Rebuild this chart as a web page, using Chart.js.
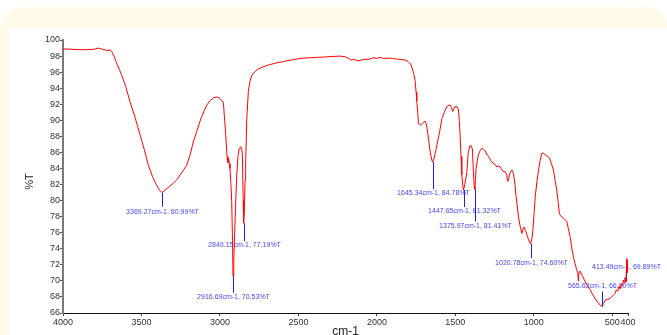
<!DOCTYPE html>
<html>
<head>
<meta charset="utf-8">
<script src="https://cdn.jsdelivr.net/npm/chart.js@4.4.1/dist/chart.umd.min.js"></script>
<style>
html,body{margin:0;padding:0;background:#ffffff;width:667px;height:335px;overflow:hidden}
#cream{position:absolute;left:0;top:7px;width:667px;height:340px;background:#fffae9;border-radius:22px 18px 0 0}
#panel{position:absolute;left:10px;top:28px;width:657px;height:320px;background:#ffffff}
#wrap{position:absolute;left:0;top:0;width:667px;height:335px}
</style>
</head>
<body>
<div id="cream"></div>
<div id="panel"></div>
<div id="wrap"><canvas id="c" width="667" height="335"></canvas></div>
<script>
// ---- data ----
const wavenumbers = [
4000,3950,3900,3850,3800,3775,3750,3720,3700,3690,3675,3660,3640,3626,3600,3573,3540,3509,3480,3456,
3430,3403,3385,3369.27,3350,3320,3300,3275,3250,3212,3190,3170,3148,3120,3100,3084,3060,3040,3020,3005,
2990,2978,2970,2963,2955,2950,2945,2940,2936,2930,2925,2920,2916.69,2912,2906,2900,2893,2885,2878,2866,
2860,2857,2852,2849.15,2845,2840,2836,2829,2819,2808,2797,2780,2755,2720,2690,2649,2600,2550,2490,2420,
2319,2280,2235,2200,2180,2160,2150,2120,2100,2086,2050,2020,2000,1980,1960,1930,1900,1870,1852,1820,
1800,1785,1775,1765,1757,1750,1746,1740,1735,1728,1720,1712,1703,1693,1686,1680,1670,1660,1650,1645.34,
1635,1625,1618,1600,1586,1570,1555,1540,1533,1525,1516,1508,1502,1490,1481,1475,1470,1464,1459,1452,
1447.65,1440,1433,1427,1420,1417,1408,1402,1396,1391,1385,1380,1375.97,1372,1368,1360,1353,1343,1332,1320,
1310,1300,1289,1275,1257,1246,1236,1225,1215,1205,1194,1183,1172,1168,1162,1155,1148,1140,1130,1120,
1113,1105,1098,1085,1076,1069,1062,1055,1049,1040,1034,1020.78,1013,1006,998,991,980,970,960,949,
940,934,920,910,900,888,875,865,854,845,837,830,822,805,790,780,769,760,748,738,
727,720,716,712,705,690,673,660,641,625,610,595,578,565.63,555,546,530,514,500,490,
482,474,465,458,450,443,435,430,425,420,416,413.49,410,408,406,404,402,400
];
const transmittance = [
98.9,98.85,98.8,98.8,98.85,99.0,98.85,98.7,98.75,98.6,98.0,97.2,96.3,95.6,94.2,92.3,90.3,88.2,86.2,84.4,
83.0,81.9,81.3,80.99,81.3,81.8,82.1,82.6,83.3,84.4,85.7,87.3,88.6,90.3,91.2,91.9,92.5,92.8,92.9,92.8,
92.5,92.2,90.0,88.2,85.5,84.7,85.3,84.6,84.0,82.0,79.9,75.0,70.53,72.5,76.0,79.5,83.2,85.5,86.5,86.7,
86.2,85.7,80.0,77.19,78.5,82.5,84.8,90.2,93.6,94.9,95.6,96.0,96.4,96.7,96.9,97.1,97.3,97.5,97.7,97.8,
97.9,97.95,98.0,97.9,97.7,97.5,97.6,97.4,97.5,97.6,97.6,97.8,97.7,97.85,97.7,97.75,97.7,97.6,97.6,97.5,
97.3,97.0,96.5,95.8,95.0,93.5,92.4,91.0,89.6,89.5,89.4,89.6,89.75,89.9,89.6,89.0,87.5,86.0,85.05,84.78,
85.3,86.2,86.9,88.6,90.2,91.0,91.7,91.9,91.9,91.6,91.1,91.5,91.7,91.7,91.4,90.0,88.2,85.5,83.2,81.8,
81.32,82.0,82.8,83.5,85.5,86.1,86.8,86.9,86.7,86.3,83.5,81.8,81.41,82.5,84.0,85.0,85.7,86.2,86.5,86.4,
86.2,85.8,85.5,85.0,84.6,84.5,84.2,84.3,84.2,83.9,83.6,83.6,83.2,82.4,82.5,83.2,83.6,83.8,83.4,82.0,
80.5,79.2,78.0,76.6,75.9,76.5,76.7,76.3,76.1,75.5,75.1,74.6,75.2,76.3,78.5,80.5,82.4,83.8,85.0,85.9,
85.9,85.8,85.6,85.5,85.3,84.6,83.8,82.6,81.3,79.8,78.4,78.1,78.0,77.7,77.4,76.5,75.5,74.3,73.0,72.2,
71.4,71.0,70.0,71.1,71.2,70.6,69.9,69.4,68.9,68.3,67.8,67.4,67.0,66.8,67.2,67.6,67.7,67.8,68.1,68.3,
68.45,68.9,68.7,69.3,69.0,69.6,69.4,70.1,69.8,70.4,70.1,69.89,71.5,72.8,71.0,72.6,71.6,72.2
];
const xTickValues = [4000,3500,3000,2500,2000,1500,1000,500,400];
const yTickValues = [66,68,70,72,74,76,78,80,82,84,86,88,90,92,94,96,98,100];
const peakWavenumbers = [3369.27,2916.69,2849.15,1645.34,1447.65,1375.97,1020.78,565.63,413.49];
const peakTransmittance = [80.99,70.53,77.19,84.78,81.32,81.41,74.60,66.80,69.89];
const peakLabels = [
"3369.27cm-1, 80.99%T","2916.69cm-1, 70.53%T","2849.15cm-1, 77.19%T",
"1645.34cm-1, 84.78%T","1447.65cm-1, 81.32%T","1375.97cm-1, 81.41%T",
"1020.78cm-1, 74.60%T","565.63cm-1, 66.80%T","413.49cm-1, 69.89%T"
];
const xTitle = "cm-1";
const yTitle = "%T";

// ---- styling of peak markers (pixel offsets from the peak) ----
const markerLineLen = [14,16,18,27,17,32,14,-15,-17];
const markerLabelDy = [19,20,22,30.5,21,37,19.5,-21,-15];

const FONT = "'Liberation Sans', Arial, sans-serif";

const peakPlugin = {
  id: 'peaks',
  beforeDatasetsDraw(chart) {
    const {ctx, scales:{x, y}} = chart;
    ctx.save();
    for (let i = 0; i < peakWavenumbers.length; i++) {
      const px = Math.round(x.getPixelForValue(peakWavenumbers[i])) + 0.5;
      const py = y.getPixelForValue(peakTransmittance[i]);
      ctx.strokeStyle = '#1a1aff';
      ctx.lineWidth = 1;
      ctx.beginPath();
      ctx.moveTo(px, py);
      ctx.lineTo(px, py + markerLineLen[i]);
      ctx.stroke();
      ctx.fillStyle = '#4646ff';
      ctx.font = '7px ' + FONT;
      ctx.textAlign = 'center';
      ctx.textBaseline = 'middle';
      ctx.fillText(peakLabels[i], px, py + markerLabelDy[i]);
    }
    ctx.restore();
  },
  afterDraw(chart) {
    const {ctx, chartArea} = chart;
    ctx.save();
    ctx.fillStyle = '#222';
    ctx.textAlign = 'center';
    ctx.textBaseline = 'middle';
    ctx.font = '12px ' + FONT;
    ctx.fillText(xTitle, (chartArea.left + chartArea.right) / 2, chartArea.bottom + 19);
    ctx.translate(chartArea.left - 33.5, (chartArea.top + chartArea.bottom) / 2 + 5);
    ctx.rotate(-Math.PI / 2);
    ctx.font = '11px ' + FONT;
    ctx.fillText(yTitle, 0, 0);
    ctx.restore();
  }
};

new Chart(document.getElementById('c'), {
  type: 'scatter',
  data: {
    datasets: [{
      data: wavenumbers.map((w, i) => ({x: w, y: transmittance[i]})),
      showLine: true,
      borderColor: '#ff0000',
      borderWidth: 1,
      pointRadius: 0,
      tension: 0,
      fill: false
    }]
  },
  options: {
    responsive: false,
    animation: false,
    events: [],
    layout: {padding: {left: 0, top: 40, right: 39, bottom: 0}},
    plugins: {legend: {display: false}, tooltip: {enabled: false}},
    scales: {
      x: {
        type: 'linear',
        position: 'bottom',
        reverse: true,
        min: 400,
        max: 4000,
        afterBuildTicks: s => { s.ticks = xTickValues.map(v => ({value: v})); },
        afterFit: s => { s.height = 22; },
        grid: {display: true, drawOnChartArea: false, drawTicks: true, tickLength: 3, color: '#444'},
        border: {display: true, color: '#111', width: 1},
        ticks: {autoSkip: false, maxRotation: 0, minRotation: 0, padding: 1, color: '#333',
                font: {family: FONT, size: 9}, callback: v => String(v)}
      },
      y: {
        type: 'linear',
        position: 'left',
        min: 66,
        max: 100,
        afterBuildTicks: s => { s.ticks = yTickValues.map(v => ({value: v})); },
        afterFit: s => { s.width = 63; },
        grid: {display: true, drawOnChartArea: false, drawTicks: true, tickLength: 3, color: '#555'},
        border: {display: true, color: '#7a7a7a', width: 2},
        ticks: {autoSkip: false, padding: 0, color: '#333', font: {family: FONT, size: 9},
                callback: v => String(v)}
      }
    }
  },
  plugins: [peakPlugin]
});
</script>
</body>
</html>
